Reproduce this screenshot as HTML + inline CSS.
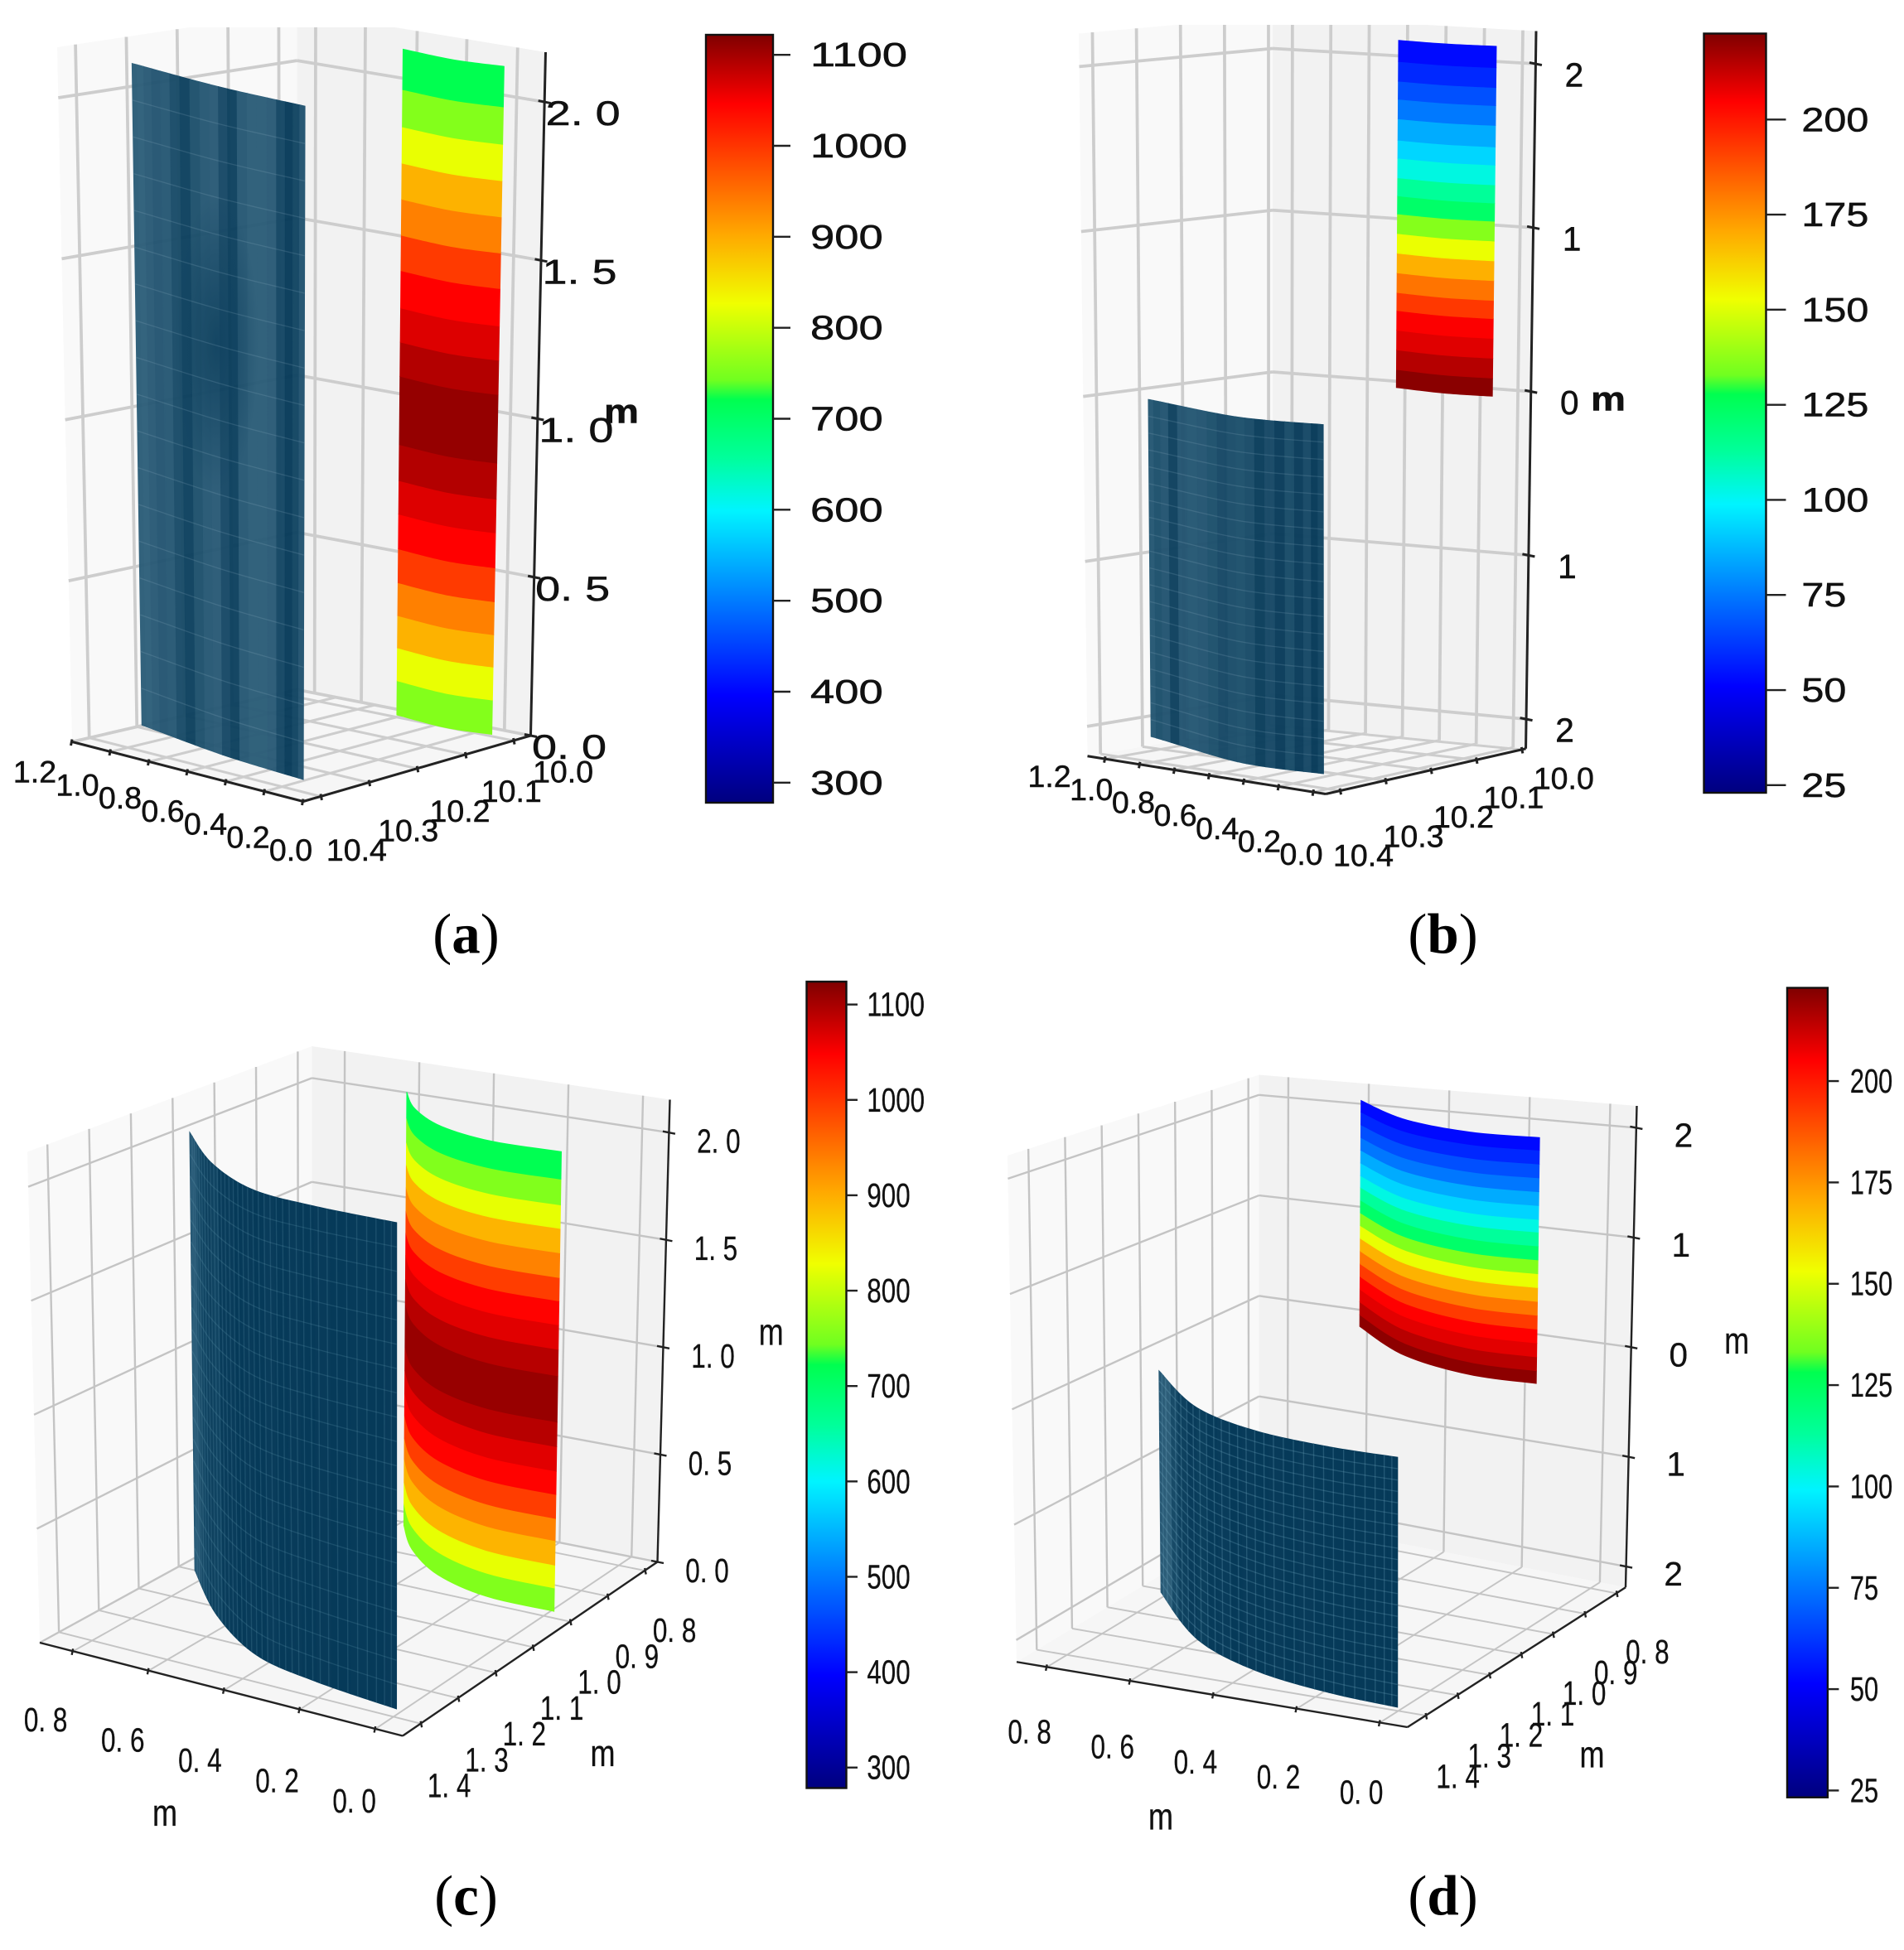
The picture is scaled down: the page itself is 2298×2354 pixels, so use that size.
<!DOCTYPE html>
<html lang="en">
<head>
<meta charset="utf-8">
<title>Temperature distribution surfaces</title>
<style>
html,body{margin:0;padding:0;background:#fff;width:2298px;height:2354px;overflow:hidden}
svg{display:block}
text{font-family:"Liberation Sans","DejaVu Sans",sans-serif;fill:#111}
#panel-a text,#panel-b text{stroke:#111;stroke-width:.35}
#panel-c text,#panel-d text{stroke:#111;stroke-width:.2}
.cap{font-family:"Liberation Serif",serif;font-size:46px;fill:#000}
.cap tspan{font-weight:bold}
</style>
</head>
<body>
<svg id="figure" xmlns="http://www.w3.org/2000/svg" width="2298" height="2354" viewBox="0 0 1532 1569.33">
<defs id="defs">
<radialGradient id="spot-grad"><stop offset="0" stop-color="#063a59" stop-opacity=".85"/><stop offset="1" stop-color="#063a59" stop-opacity="0"/></radialGradient>
</defs>
<g id="panel-a"></g>
<g id="panel-b"></g>
<g id="panel-c"></g>
<g id="panel-d"></g>
<text class="cap" x="375" y="767" text-anchor="middle">(<tspan>a</tspan>)</text>
<text class="cap" x="1161" y="767" text-anchor="middle">(<tspan>b</tspan>)</text>
<text class="cap" x="375" y="1541" text-anchor="middle">(<tspan>c</tspan>)</text>
<text class="cap" x="1161" y="1541" text-anchor="middle">(<tspan>d</tspan>)</text>
</svg>
<script>
/* ---------- DATA ---------- */
const xTicksTop = [1.2, 1.0, 0.8, 0.6, 0.4, 0.2, 0.0];
const xTickLabelsTop = ['1.2', '1.0', '0.8', '0.6', '0.4', '0.2', '0.0'];
const yTicksTop = [10.4, 10.3, 10.2, 10.1, 10.0];
const yTickLabelsTop = ['10.4', '10.3', '10.2', '10.1', '10.0'];
const xTicksBottom = [0.8, 0.6, 0.4, 0.2, 0.0];
const xTickLabelsBottom = ['0. 8', '0. 6', '0. 4', '0. 2', '0. 0'];
const yTicksBottom = [1.4, 1.3, 1.2, 1.1, 1.0, 0.9, 0.8];
const yTickLabelsBottom = ['1. 4', '1. 3', '1. 2', '1. 1', '1. 0', '0. 9', '0. 8'];
const zTicksHot = [2.0, 1.5, 1.0, 0.5, 0.0];
const zTickLabelsHot = ['2. 0', '1. 5', '1. 0', '0. 5', '0. 0'];
const zTicksCool = [2, 1, 0, -1, -2];
const zTickLabelsCool = ['2', '1', '0', '1', '2'];
const gridXA = [1.11, 0.87, 0.62, 0.38, 0.135];

const cbarTicksHot = [300, 400, 500, 600, 700, 800, 900, 1000, 1100];
const cbarTicksCool = [25, 50, 75, 100, 125, 150, 175, 200];

/* temperatures of colored bands, bottom to top */
const bandTempsHot = [755, 822, 894, 936, 995, 1046, 1066, 1091, 1109, 1091, 1066, 1046, 995, 936, 894, 822, 755, 721];
const bandTempsCool = [221, 215, 209, 205, 193, 181, 169, 152, 136, 123, 113, 103, 93, 85, 75, 67, 59, 53];
const bandEdgesA = [0, 0.108, 0.212, 0.314, 0.418, 0.525, 0.635, 0.741, 0.855, 1.071, 1.179, 1.287, 1.405, 1.517, 1.631, 1.745, 1.86, 1.978, 2.106];
const bandEdgesB = [0, 0.11, 0.23, 0.35, 0.47, 0.58, 0.7, 0.82, 0.94, 1.06, 1.17, 1.28, 1.4, 1.51, 1.64, 1.76, 1.87, 1.99, 2.12];
const bandEdgesC = [0, 0.104, 0.206, 0.315, 0.414, 0.521, 0.625, 0.734, 0.844, 1.05, 1.168, 1.277, 1.384, 1.488, 1.598, 1.707, 1.812, 1.927, 2.05];
const bandEdgesD = [0.05, 0.16, 0.28, 0.4, 0.52, 0.64, 0.76, 0.88, 1.0, 1.12, 1.24, 1.36, 1.47, 1.59, 1.71, 1.83, 1.95, 2.07, 2.18];

/* surface footprints on the floor (x, y) */
const hotXA = [0.624, 0.346, 0.13];
const hotYA = [9.99, 10.003, 9.992];
const darkXA = [1.206, 0.68, 0.212];
const darkYA = [10.287, 10.331, 10.351];
const darkZA = [0, 2.07];
const darkSpotA = [0.7, 10.33, 1.27];
const hotXB = [0.489, 0.192, -0.054];
const hotYB = [10.056, 10.074, 10.067];
const darkXB = [1.223, 0.515, 0.04];
const darkYB = [10.313, 10.401, 10.394];
const darkZB = [-2.1, -0.05];
const hotXC = [0.584, 0.485, 0.347, 0.179, -0.008];
const hotYC = [0.811, 0.882, 0.945, 0.979, 0.98];
const darkXC = [0.844, 0.65, 0.446, 0.251, 0.017];
const darkYC = [1.1, 1.226, 1.319, 1.354, 1.375];
const darkZC = [0, 2.006];
const hotXD = [0.527, 0.321, 0.114, -0.052];
const hotYD = [0.876, 0.988, 1.043, 1.045];
const darkXD = [0.752, 0.53, 0.323, 0.117, -0.058];
const darkYD = [1.187, 1.343, 1.425, 1.464, 1.478];
const darkZD = [-2.0, 0.0];

/* brightness of dark surface across its width, left to right */
const shadeA = [0.7, 0.75, 0.65, 0.55, 0.6, 0.35, 0.12, 0.45, 0.6, 0.65, 0.3, 0.12, 0.6, 0.7, 0.7, 0.65, 0.25, 0.0, 0.2, 0.5];
const shadeB = [0.6, 0.45, 0.55, 0.15, 0.55, 0.6, 0.55, 0.45, 0.3, 0.4, 0.45, 0.35, 0.08, 0.3, 0.05, 0.35, 0.05, 0.3, 0.0, 0.2];
const shadeC = [0.5, 0.55, 0.35, 0.2, 0.15, 0.2, 0.05, 0.05, 0, 0.03, 0, 0.05, 0, 0.03, 0, 0.03, 0, 0.02, 0, 0.03];
const shadeD = [0.65, 0.75, 0.35, 0.15, 0.05, 0.1, 0.02, 0.05, 0, 0.03, 0, 0.03, 0, 0.03, 0, 0, 0, 0, 0, 0];

/* ---------- COLOR MAP ---------- */
const cmapStops = [[0, '#00007f'], [0.14, '#0000ff'], [0.26, '#0078ff'], [0.38, '#00f4ff'], [0.45, '#00ff9a'], [0.525, '#00ff50'], [0.55, '#70ff20'], [0.65, '#f0ff00'], [0.74, '#ffa800'], [0.86, '#ff3000'], [0.91, '#ff0000'], [1, '#7f0000']];
function hexRgb(h) { return [parseInt(h.substr(1, 2), 16), parseInt(h.substr(3, 2), 16), parseInt(h.substr(5, 2), 16)]; }
function mixRgb(a, b, t) { return 'rgb(' + a.map((c, i) => Math.round(c + (b[i] - c) * t)).join(',') + ')'; }
function cmap(t) {
  t = Math.max(0, Math.min(1, t));
  for (let i = 1; i < cmapStops.length; i++) {
    if (t <= cmapStops[i][0]) {
      const a = cmapStops[i - 1], b = cmapStops[i];
      return mixRgb(hexRgb(a[1]), hexRgb(b[1]), (t - a[0]) / (b[0] - a[0]));
    }
  }
  return cmapStops[cmapStops.length - 1][1];
}

/* ---------- LAYOUT ---------- */
const panels = [
  { id: 'a', A0: [244, 645], A1: [246, 75], B0: [58, 597], B1: [46, 38], C0: [427, 592], C1: [439, 42], D0: [239, 555], D1: [239, 9], clipTop: 22,
    xLim: [0, 1.2], yLim: [10.436, 9.964], zLim: [0, 2.157], xTicks: xTicksTop, xLabels: xTickLabelsTop, yTicks: yTicksTop, yLabels: yTickLabelsTop, zTicks: zTicksHot, zLabels: zTickLabelsHot, gridX: gridXA,
    xOff: [[-30, 24], [-10, 39]], yOff: [[29, 43], [40, 25]], zOff: [31, 9], xFont: 25, yFont: 25, zFont: 28, zLen: 60,
    gridColor: '#cdcdcd', gridW: 2.5, axisW: 2, tickW: 2,
    hotX: hotXA, hotY: hotYA, edges: bandEdgesA, temps: bandTempsHot, darkX: darkXA, darkY: darkYA, darkZ: darkZA, shade: shadeA, spot: darkSpotA,
    wireRows: 18, wireCols: 0, wireColor: '#a9c8d8', wireOp: 0.16, darkOp: 0.96,
    cbar: { x: 568, y: 28, w: 54, h: 618, vmin: 278, vmax: 1122, ticks: cbarTicksHot, lx: 652, digit: 19.5, font: 27, tl: 14 },
    temps0: 278, temps1: 1122, title: [{ x: 500, y: 331, w: 28, bold: true, font: 27 }] },
  { id: 'b', A0: [1066.7, 639], A1: [1066, 35], B0: [875, 608.5], B1: [868, 27], C0: [1227.7, 602.5], C1: [1236, 25], D0: [1024, 583], D1: [1024, 13], clipTop: 20,
    xLim: [-0.069, 1.303], yLim: [10.431, 9.9905], zLim: [-2.18, 2.2], xTicks: xTicksTop, xLabels: xTickLabelsTop, yTicks: yTicksTop, yLabels: yTickLabelsTop, zTicks: zTicksCool, zLabels: zTickLabelsCool, gridX: null,
    xOff: [[-45, 14], [-10, 50]], yOff: [[19, 52], [34, 23]], zOff: [31, 9], xFont: 25, yFont: 25, zFont: 27, zLen: 0,
    gridColor: '#cdcdcd', gridW: 2.5, axisW: 2, tickW: 2,
    hotX: hotXB, hotY: hotYB, edges: bandEdgesB, temps: bandTempsCool, darkX: darkXB, darkY: darkYB, darkZ: darkZB, shade: shadeB,
    wireRows: 20, wireCols: 0, wireColor: '#a9c8d8', wireOp: 0.16, darkOp: 0.97,
    cbar: { x: 1371, y: 27, w: 50, h: 611, vmin: 23, vmax: 222.6, ticks: cbarTicksCool, lx: 1449.6, digit: 18, font: 27, tl: 16 },
    temps0: 23, temps1: 222.6, title: [{ x: 1294, y: 321, w: 28, bold: true, font: 27 }] },
  { id: 'c', A0: [324, 1397], A1: [324, 968], B0: [32, 1322], B1: [22, 927], C0: [529, 1257], C1: [539, 885], D0: [251, 1202], D1: [251, 842], clipTop: 0,
    xLim: [-0.072, 0.888], yLim: [1.448, 0.766], zLim: [0, 2.153], xTicks: xTicksBottom, xLabels: xTickLabelsBottom, yTicks: yTicksBottom, yLabels: yTickLabelsBottom, zTicks: zTicksHot, zLabels: zTickLabelsHot, gridX: null,
    xOff: [[-22, 55], [-17, 58]], yOff: [[23, 50], [24, 48]], zOff: [40, 7], xFont: 27, yFont: 27, zFont: 27, zLen: 35, xLen: 35, yLen: 35,
    gridColor: '#c4c4c4', gridW: 1.6, axisW: 1.6, tickW: 1.6,
    hotX: hotXC, hotY: hotYC, edges: bandEdgesC, temps: bandTempsHot, darkX: darkXC, darkY: darkYC, darkZ: darkZC, shade: shadeC,
    wireRows: 20, wireCols: 38, wireColor: '#6fa3bb', wireOp: 0.2, darkOp: 1,
    cbar: { x: 649, y: 790, w: 32, h: 649, vmin: 278.5, vmax: 1124, ticks: cbarTicksHot, lx: 697.6, digit: 11.6, font: 27, tl: 9 },
    temps0: 278.5, temps1: 1124, title: [{ x: 132.7, y: 1459, w: 20, font: 30 }, { x: 485, y: 1411, w: 20, font: 30 }, { x: 620.5, y: 1072, w: 20, font: 30 }] },
  { id: 'd', A0: [1132.5, 1390], A1: [1133, 950], B0: [818, 1337.5], B1: [810.6, 930], C0: [1308, 1277.5], C1: [1317, 890], D0: [1013, 1220], D1: [1013, 865], clipTop: 0,
    xLim: [-0.066, 0.873], yLim: [1.457, 0.771], zLim: [-2.19, 2.2], xTicks: xTicksBottom, xLabels: xTickLabelsBottom, yTicks: yTicksBottom, yLabels: yTickLabelsBottom, zTicks: zTicksCool, zLabels: zTickLabelsCool, gridX: null,
    xOff: [[-14, 52], [-15, 56]], yOff: [[26, 49], [25, 47]], zOff: [38, 6], xFont: 27, yFont: 27, zFont: 27, zLen: 0, xLen: 35, yLen: 35,
    gridColor: '#c4c4c4', gridW: 1.6, axisW: 1.6, tickW: 1.6,
    hotX: hotXD, hotY: hotYD, edges: bandEdgesD, temps: bandTempsCool, darkX: darkXD, darkY: darkYD, darkZ: darkZD, shade: shadeD,
    wireRows: 22, wireCols: 30, wireColor: '#78aec6', wireOp: 0.26, darkOp: 1,
    cbar: { x: 1438, y: 795, w: 32.6, h: 651.5, vmin: 23.3, vmax: 223, ticks: cbarTicksCool, lx: 1488.6, digit: 11.4, font: 27, tl: 9 },
    temps0: 23.3, temps1: 223, title: [{ x: 934, y: 1462, w: 20, font: 30 }, { x: 1281, y: 1412, w: 20, font: 30 }, { x: 1397.4, y: 1079, w: 20, font: 30 }] }
];

/* ---------- HELPERS ---------- */
const NS = 'http://www.w3.org/2000/svg';
function svgEl(tag, attrs, parent) {
  const el = document.createElementNS(NS, tag);
  for (const k in attrs) el.setAttribute(k, attrs[k]);
  parent.appendChild(el);
  return el;
}
function lerp(a, b, t) { return a + (b - a) * t; }
function lerpPt(p, q, t) { return [lerp(p[0], q[0], t), lerp(p[1], q[1], t)]; }
function project(c, x, y, z) {
  const u = (x - c.xLim[0]) / (c.xLim[1] - c.xLim[0]);
  const v = (y - c.yLim[0]) / (c.yLim[1] - c.yLim[0]);
  const w = (z - c.zLim[0]) / (c.zLim[1] - c.zLim[0]);
  const f = lerpPt(lerpPt(c.A0, c.B0, u), lerpPt(c.C0, c.D0, u), v);
  const t = lerpPt(lerpPt(c.A1, c.B1, u), lerpPt(c.C1, c.D1, u), v);
  return lerpPt(f, t, w);
}
function catmull(p0, p1, p2, p3, t) {
  return 0.5 * (2 * p1 + (p2 - p0) * t + (2 * p0 - 5 * p1 + 4 * p2 - p3) * t * t + (3 * p1 - p0 - 3 * p2 + p3) * t * t * t);
}
function curve(arr, t) {
  const n = arr.length - 1, s = Math.min(t * n, n - 1e-6), i = Math.floor(s), f = s - i;
  return catmull(arr[Math.max(i - 1, 0)], arr[i], arr[i + 1], arr[Math.min(i + 2, n)], f);
}
function ptsAttr(list) { return list.map(p => p[0].toFixed(2) + ',' + p[1].toFixed(2)).join(' '); }
function stripPts(c, xs, ys, t0, t1, z0, z1, steps) {
  const top = [], bot = [];
  for (let i = 0; i <= steps; i++) {
    const t = lerp(t0, t1, i / steps), x = curve(xs, t), y = curve(ys, t);
    top.push(project(c, x, y, z1));
    bot.unshift(project(c, x, y, z0));
  }
  return top.concat(bot);
}
function addLine(parent, p, q, stroke, width, name) {
  const el = svgEl('line', { x1: p[0], y1: p[1], x2: q[0], y2: q[1], stroke: stroke, 'stroke-width': width }, parent);
  
  
  return el;
}
function addLabel(parent, x, y, str, font, len, anchor, bold, name) {
  const el = svgEl('text', { x: x, y: y, 'font-size': font, 'text-anchor': anchor, 'dominant-baseline': 'central' }, parent);
  if (bold) el.setAttribute('font-weight', 'bold');
  if (len) { el.setAttribute('textLength', len); el.setAttribute('lengthAdjust', 'spacingAndGlyphs'); }
  el.textContent = str;
  
  
  return el;
}
function addPane(parent, pts, fill, name) {
  const el = svgEl('polygon', { points: ptsAttr(pts), fill: fill }, parent);
  
  
}

/* ---------- DRAW ---------- */
const defs = document.getElementById('defs');
function drawPanel(c) {
  const root = document.getElementById('panel-' + c.id);
  let grp = root;
  if (c.clipTop) {
    const cp = svgEl('clipPath', { id: 'clip-' + c.id }, defs);
    svgEl('rect', { x: 0, y: c.clipTop, width: 1532, height: 1569 }, cp);
    grp = svgEl('g', { 'clip-path': 'url(#clip-' + c.id + ')' }, root);
  }
  addPane(grp, [c.B0, c.B1, c.D1, c.D0], '#f9f9f9', 'left-wall');
  addPane(grp, [c.D0, c.D1, c.C1, c.C0], '#f2f2f2', 'right-wall');
  addPane(grp, [c.A0, c.B0, c.D0, c.C0], '#f6f6f6', 'floor');

  const zMin = c.zLim[0], zMax = c.zLim[1];
  const yBack = c.yLim[1], yFront = c.yLim[0], xBack = c.xLim[1], xFront = c.xLim[0];
  c.zTicks.forEach(z => {
    addLine(grp, project(c, xBack, yFront, z), project(c, xBack, yBack, z), c.gridColor, c.gridW, 'z-gridline-left');
    addLine(grp, project(c, xBack, yBack, z), project(c, xFront, yBack, z), c.gridColor, c.gridW, 'z-gridline-right');
  });
  (c.gridX || c.xTicks).forEach(x => {
    addLine(grp, project(c, x, yBack, zMin), project(c, x, yBack, zMax), c.gridColor, c.gridW, 'x-gridline-wall');
  });
  c.xTicks.forEach(x => {
    addLine(grp, project(c, x, yFront, zMin), project(c, x, yBack, zMin), c.gridColor, c.gridW * 0.8, 'x-gridline-floor');
  });
  c.yTicks.forEach(y => {
    addLine(grp, project(c, xBack, y, zMin), project(c, xBack, y, zMax), c.gridColor, c.gridW, 'y-gridline-wall');
    addLine(grp, project(c, xFront, y, zMin), project(c, xBack, y, zMin), c.gridColor, c.gridW * 0.8, 'y-gridline-floor');
  });

  /* axes */
  addLine(root, c.A0, c.B0, '#222', c.axisW, 'x-axis-line');
  addLine(root, c.A0, c.C0, '#222', c.axisW, 'y-axis-line');
  addLine(root, c.C0, c.C1, '#222', c.axisW, 'z-axis-line');
  c.xTicks.forEach((x, i) => {
    const p = project(c, x, yFront, zMin);
    addLine(root, [p[0], p[1] - 2], [p[0] - 1, p[1] + 3], '#222', c.tickW, 'x-axis-tick');
    const t = i / (c.xTicks.length - 1);
    addLabel(root, p[0] + lerp(c.xOff[0][0], c.xOff[1][0], t), p[1] + lerp(c.xOff[0][1], c.xOff[1][1], t), c.xLabels[i], c.xFont, c.xLen || 0, 'middle', false, 'x-tick-label');
  });
  c.yTicks.forEach((y, i) => {
    const p = project(c, xFront, y, zMin);
    addLine(root, [p[0], p[1] - 2], [p[0] + 1, p[1] + 3], '#222', c.tickW, 'y-axis-tick');
    const t = i / (c.yTicks.length - 1);
    addLabel(root, p[0] + lerp(c.yOff[0][0], c.yOff[1][0], t), p[1] + lerp(c.yOff[0][1], c.yOff[1][1], t), c.yLabels[i], c.yFont, c.yLen || 0, 'middle', false, 'y-tick-label');
  });
  c.zTicks.forEach((z, i) => {
    const p = project(c, xFront, yBack, z);
    addLine(root, [p[0] - 5, p[1] - 1], [p[0] + 5, p[1] + 1], '#222', c.tickW, 'z-axis-tick');
    addLabel(root, p[0] + c.zOff[0], p[1] + c.zOff[1], c.zLabels[i], c.zFont, c.zLen || 0, 'middle', false, 'z-tick-label');
  });

  /* dark surface */
  const darkA = hexRgb('#063a59'), darkB = hexRgb('#3a6a84');
  const darkGroup = svgEl('g', { opacity: c.darkOp }, root);
  
  
  const n = c.shade.length;
  c.shade.forEach((s, i) => {
    const col = mixRgb(darkA, darkB, s);
    const strip = svgEl('polygon', { points: ptsAttr(stripPts(c, c.darkX, c.darkY, i / n, (i + 1) / n, c.darkZ[0], c.darkZ[1], 3)), fill: col, stroke: col, 'stroke-width': 0.7 }, darkGroup);
    
    
  });
  if (c.spot) {
    const sp = project(c, c.spot[0], c.spot[1], c.spot[2]);
    const spot = svgEl('ellipse', { cx: sp[0], cy: sp[1], rx: 34, ry: 120, fill: 'url(#spot-grad)' }, darkGroup);
    
    
  }
  for (let r = 1; r < c.wireRows; r++) {
    const z = lerp(c.darkZ[0], c.darkZ[1], r / c.wireRows);
    const pts = [];
    for (let i = 0; i <= 24; i++) { const t = i / 24; pts.push(project(c, curve(c.darkX, t), curve(c.darkY, t), z)); }
    const wire = svgEl('polyline', { points: ptsAttr(pts), fill: 'none', stroke: c.wireColor, 'stroke-width': 0.9, opacity: c.wireOp }, darkGroup);
    
    
  }
  for (let k = 1; k < c.wireCols; k++) {
    const t = k / c.wireCols, x = curve(c.darkX, t), y = curve(c.darkY, t);
    const wire = svgEl('line', {}, darkGroup);
    const p = project(c, x, y, c.darkZ[0]), q = project(c, x, y, c.darkZ[1]);
    wire.setAttribute('x1', p[0]); wire.setAttribute('y1', p[1]); wire.setAttribute('x2', q[0]); wire.setAttribute('y2', q[1]);
    wire.setAttribute('stroke', c.wireColor); wire.setAttribute('stroke-width', 0.9); wire.setAttribute('opacity', c.wireOp);
    
    
  }

  /* colored surface */
  const hotGroup = svgEl('g', {}, root);
  
  
  c.temps.forEach((temp, i) => {
    const col = cmap((temp - c.temps0) / (c.temps1 - c.temps0));
    const band = svgEl('polygon', { points: ptsAttr(stripPts(c, c.hotX, c.hotY, 0, 1, c.edges[i], c.edges[i + 1], 32)), fill: col, stroke: col, 'stroke-width': 0.5 }, hotGroup);
    
    
  });

  /* titles */
  c.title.forEach(t => {
    addLabel(root, t.x, t.y, 'm', t.font, t.w, 'middle', !!t.bold, 'axis-title');
  });

  /* colorbar */
  const b = c.cbar;
  const grad = svgEl('linearGradient', { id: 'cbar-grad-' + c.id, x1: 0, y1: 1, x2: 0, y2: 0 }, defs);
  cmapStops.forEach(s => { svgEl('stop', { offset: s[0], 'stop-color': s[1] }, grad); });
  const bar = svgEl('rect', { x: b.x, y: b.y, width: b.w, height: b.h, fill: 'url(#cbar-grad-' + c.id + ')', stroke: '#111', 'stroke-width': 1.6 }, root);
  
  
  const cbY = v => b.y + b.h * (1 - (v - b.vmin) / (b.vmax - b.vmin));
  b.ticks.forEach(v => {
    const y = cbY(v);
    addLine(root, [b.x + b.w, y], [b.x + b.w + b.tl, y], '#222', 1.6, 'colorbar-tick');
    const s = String(v);
    addLabel(root, b.lx, y, s, b.font, s.length * b.digit, 'start', false, 'colorbar-tick-label');
  });
}
panels.forEach(drawPanel);
</script>
</body>
</html>
